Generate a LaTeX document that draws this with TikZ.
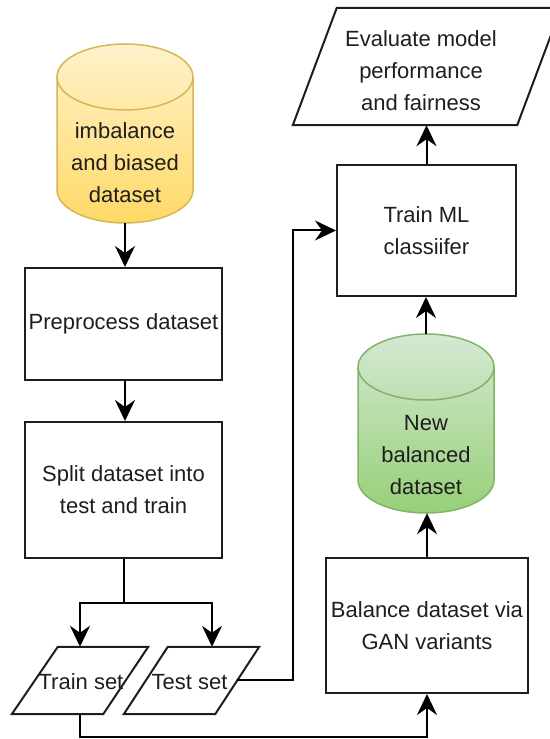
\documentclass[tikz,border=0pt]{standalone}
\usepackage{fontspec}
\setmainfont{Liberation Sans}
\usetikzlibrary{arrows.meta}
\definecolor{yelTop}{HTML}{FFF2CC}
\definecolor{yelBot}{HTML}{FFD966}
\definecolor{yelLine}{HTML}{D6B656}
\definecolor{grnTop}{HTML}{D5E8D4}
\definecolor{grnBot}{HTML}{97D077}
\definecolor{grnLine}{HTML}{82B366}
\definecolor{ink}{HTML}{1E1E1E}
\begin{document}
\begin{tikzpicture}[x=1pt,y=1pt,
  txt/.style={align=center, inner sep=0pt, text=ink, font=\fontsize{22}{32}\selectfont},
  shp/.style={draw=none, inner sep=0pt, minimum width=#1},
  boxd/.style={draw=ink, line width=2pt, inner sep=0pt, align=center, text=ink, font=\fontsize{22}{32}\selectfont},
  outline/.style={draw=ink, line width=2pt, line join=miter},
  conn/.style={draw=black, line width=2pt},
  arr/.style={conn, -{Stealth[length=21pt,width=20pt,inset=7pt]}}]
\useasboundingbox (0,0) rectangle (549,739);

% ---- nodes (shapes) ----
\node[shp=136pt, minimum height=179pt] (yel) at (125,605.5) {};
\node[boxd, minimum width=197pt, minimum height=112pt] (pre) at (123.5,415) {Preprocess dataset};
\node[boxd, minimum width=197pt, minimum height=136pt] (split) at (123.5,249) {Split dataset into\\test and train};
\node[shp=136pt, minimum height=67pt] (train) at (80,58.5) {};
\node[shp=135pt, minimum height=67pt] (test) at (191.5,58.5) {};
\node[boxd, minimum width=202pt, minimum height=135pt] (bal) at (427,113.5) {Balance dataset via\\GAN variants};
\node[shp=136pt, minimum height=179pt] (grn) at (426,315.5) {};
\node[boxd, minimum width=179pt, minimum height=131pt] (ml) at (426.5,508.5) {Train ML\\classiifer};
\node[shp=268pt, minimum height=117pt] (eval) at (427,672.5) {};

% ---- yellow cylinder ----
\shade[top color=yelTop, bottom color=yelBot]
  (57,662) -- (57,549) arc[start angle=180,end angle=360,x radius=68,y radius=33]
  -- (193,662) arc[start angle=0,end angle=180,x radius=68,y radius=33] -- cycle;
\draw[draw=yelLine, line width=1.5pt]
  (57,662) -- (57,549) arc[start angle=180,end angle=360,x radius=68,y radius=33]
  -- (193,662) arc[start angle=0,end angle=180,x radius=68,y radius=33] -- cycle;
\draw[draw=yelLine, line width=1.5pt] (57,662) arc[start angle=180,end angle=360,x radius=68,y radius=33];
\node[txt] (yeltxt) at (125,576) {imbalance\\and biased\\dataset};

% ---- green cylinder ----
\shade[top color=grnTop, bottom color=grnBot]
  (358,372) -- (358,259) arc[start angle=180,end angle=360,x radius=68,y radius=33]
  -- (494,372) arc[start angle=0,end angle=180,x radius=68,y radius=33] -- cycle;
\draw[draw=grnLine, line width=1.5pt]
  (358,372) -- (358,259) arc[start angle=180,end angle=360,x radius=68,y radius=33]
  -- (494,372) arc[start angle=0,end angle=180,x radius=68,y radius=33] -- cycle;
\draw[draw=grnLine, line width=1.5pt] (358,372) arc[start angle=180,end angle=360,x radius=68,y radius=33];
\node[txt] (grntxt) at (426,284) {New\\balanced\\dataset};

% ---- parallelograms ----
\draw[outline] ([xshift=46pt]train.north west) -- (train.north east)
  -- ([xshift=-45pt]train.south east) -- (train.south west) -- cycle;
\node[txt] (traintxt) at (81,57) {Train set};
\draw[outline] ([xshift=44pt]test.north west) -- (test.north east)
  -- ([xshift=-44pt]test.south east) -- (test.south west) -- cycle;
\node[txt] (testtxt) at (189.5,57) {Test set};
\draw[outline] ([xshift=44pt]eval.north west) -- (eval.north east)
  -- ([xshift=-44pt]eval.south east) -- (eval.south west) -- cycle;
\node[txt] (evaltxt) at (421,668) {Evaluate model\\performance\\and fairness};

% ---- connectors ----
\coordinate (fork) at (0,136);
\coordinate (bot) at (0,2);
\coordinate (tcol) at (293,0);
\coordinate (tstart) at ([xshift=-22pt]test.east);
\coordinate (testin) at ([xshift=20.5pt]test.north);

\draw[arr] (yel.south) -- (yel.south |- pre.north);
\draw[arr] (pre.south -| yel.south) -- (yel.south |- split.north);
\draw[conn] (split.south) -- (split.south |- fork);
\draw[arr] (split.south |- fork) -| (train.north);
\draw[arr] (split.south |- fork) -| (testin);
\draw[arr] (tstart) -- (tstart -| tcol) -- (ml.west -| tcol) -- (ml.west);
\draw[arr] (train.south) -- (train.south |- bot) -| (bal.south);
\draw[arr] (bal.north) -- (bal.north |- grn.south);
\draw[arr] (grn.north) -- (grn.north |- ml.south);
\draw[arr] (ml.north) -- (ml.north |- eval.south);
\end{tikzpicture}
\end{document}
